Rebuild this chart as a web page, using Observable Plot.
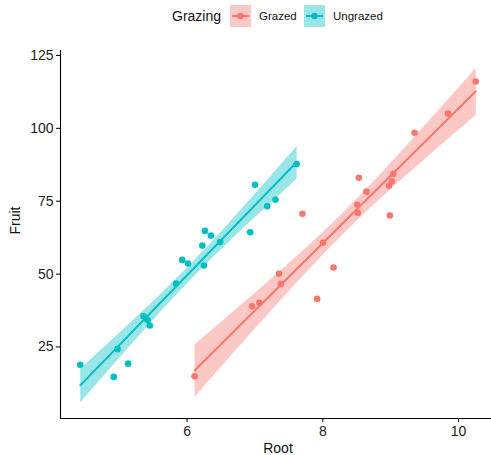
<!DOCTYPE html>
<html>
<head>
<meta charset="utf-8">
<script src="https://cdn.jsdelivr.net/npm/d3@7"></script>
<script src="https://cdn.jsdelivr.net/npm/@observablehq/plot@0.6"></script>
<style>
  html, body { margin: 0; padding: 0; background: #fff; overflow: hidden; }
  #wrap { width: 491px; height: 455px; overflow: hidden; position: relative; font-family: "Liberation Sans", Arial, sans-serif; }
  #legend { display: block; }
  #chart svg { display: block; max-width: none !important; }
</style>
</head>
<body>
<div id="wrap">
  <svg id="legend" width="491" height="34"></svg>
  <div id="chart"></div>
</div>
<script>
// Data: ipomopsis (Root vs Fruit by Grazing)
const groups = ["Grazed", "Ungrazed"];
const colors = ["#F8766D", "#00BFC4"];
const root = [6.225, 6.487, 4.919, 5.130, 5.417, 5.359, 7.614, 6.352, 4.975, 6.930,
  6.248, 5.451, 6.013, 5.928, 6.264, 7.181, 7.001, 4.426, 7.302, 5.836,
  10.253, 6.958, 8.001, 9.039, 8.988, 8.975, 9.844, 8.508, 7.354, 8.643,
  7.916, 9.351, 7.066, 8.158, 7.382, 8.515, 8.530, 9.018, 6.110, 7.700];
const fruit = [59.77, 60.98, 14.73, 19.28, 34.25, 35.53, 87.73, 63.21, 24.25, 64.34,
  52.92, 32.35, 53.61, 54.86, 64.81, 73.24, 80.64, 18.89, 75.49, 46.73,
  116.05, 38.94, 60.77, 84.37, 70.11, 80.31, 105.07, 73.79, 50.08, 78.28,
  41.48, 98.47, 40.15, 52.26, 46.64, 71.01, 83.03, 81.80, 14.95, 70.68];
const grazing = [...Array(20).fill("Ungrazed"), ...Array(20).fill("Grazed")];
const xTicks = [6, 8, 10];
const yTicks = [25, 50, 75, 100, 125];

const data = root.map((r, i) => ({Root: r, Fruit: fruit[i], Grazing: grazing[i]}));

const xDomain = [4.135, 10.544];
const yDomain = [0.46, 126.7];

const chart = Plot.plot({
  width: 495,
  height: 421,
  marginLeft: 60,
  marginRight: 0,
  marginTop: 16,
  marginBottom: 37,
  style: {fontFamily: "'Liberation Sans', Arial, sans-serif", fontSize: "14px", color: "#000", background: "#fff"},
  x: {domain: xDomain},
  y: {domain: yDomain},
  color: {domain: groups, range: colors},
  marks: [
    Plot.linearRegressionY(data, {x: "Root", y: "Fruit", stroke: "Grazing", fill: "Grazing", fillOpacity: 0.4, strokeWidth: 2, ci: 0.95}),
    Plot.dot(data, {x: "Root", y: "Fruit", fill: "Grazing", r: 3.3}),
    Plot.ruleX([xDomain[0]], {stroke: "#000", strokeWidth: 1.1}),
    Plot.ruleY([yDomain[0]], {stroke: "#000", strokeWidth: 1.1}),
    Plot.axisX(xTicks, {tickSize: 4, tickPadding: 4, label: null, stroke: "#000", fill: "#222", fontSize: 14}),
    Plot.axisY(yTicks, {tickSize: 4, tickPadding: 3, label: null, stroke: "#000", fill: "#222", fontSize: 14}),
    Plot.text(["Root"], {frameAnchor: "bottom", dy: 30, lineAnchor: "middle", fontSize: 14, fill: "#111"}),
    Plot.text(["Fruit"], {frameAnchor: "left", dx: -45, rotate: -90, lineAnchor: "middle", fontSize: 14, fill: "#111"})
  ]
});
chart.style.maxWidth = "none";
chart.style.height = "421px";
document.getElementById("chart").appendChild(chart);

// Legend
const lg = d3.select("#legend");
lg.append("text").attr("x", 172).attr("y", 16).attr("dy", "0.35em")
  .attr("font-size", 14).attr("fill", "#111").text("Grazing");
const keyX = [230, 304];
groups.forEach((g, i) => {
  const x0 = keyX[i];
  lg.append("rect").attr("x", x0).attr("y", 5).attr("width", 21).attr("height", 22)
    .attr("fill", colors[i]).attr("fill-opacity", 0.4);
  lg.append("line").attr("x1", x0 + 2).attr("x2", x0 + 19).attr("y1", 16).attr("y2", 16)
    .attr("stroke", colors[i]).attr("stroke-width", 2);
  lg.append("circle").attr("cx", x0 + 10.5).attr("cy", 16).attr("r", 3.3).attr("fill", colors[i]);
  lg.append("text").attr("x", x0 + 29).attr("y", 16).attr("dy", "0.35em")
    .attr("font-size", 11.5).attr("fill", "#111").text(g);
});
</script>
</body>
</html>
